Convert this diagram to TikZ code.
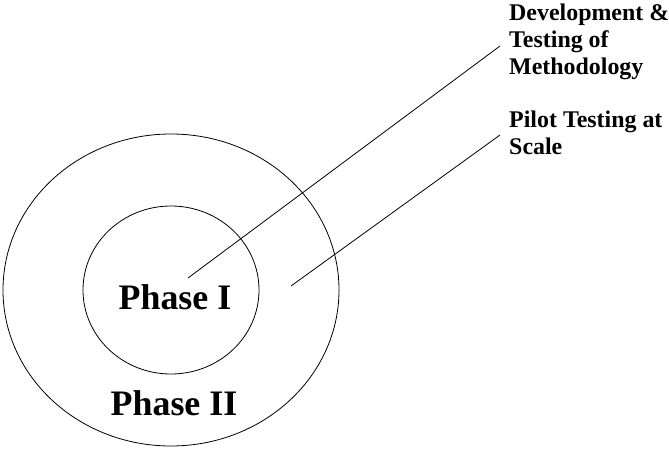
\documentclass[tikz,border=0pt]{standalone}
\usepackage{fontspec}
\setmainfont{Liberation Serif}
\begin{document}
\begin{tikzpicture}[x=1bp,y=-1bp,
  ring/.style={draw=black, line width=0.8bp},
  lead/.style={draw=black, line width=0.8bp},
  phase/.style={font=\bfseries\fontsize{36}{40}\selectfont, inner sep=0pt, anchor=base},
  label/.style={font=\bfseries\fontsize{24}{27.5}\selectfont, inner sep=0pt, anchor=base west, align=left}]
\useasboundingbox (0,0) rectangle (669,449);
\draw[ring] (171,290) ellipse [x radius=168, y radius=156];
\draw[ring] (171,290) ellipse [x radius=88, y radius=84];
\node[phase] (p1) at (175,310) {Phase I};
\node[phase] (p2) at (174,415) {Phase II};
\node[label] (l1) at (509,75) {Development \&\\Testing of\\Methodology};
\node[label] (l2) at (509,155) {Pilot Testing at\\Scale};
\coordinate (a1) at (188,278);
\coordinate (b1) at (500,46);
\coordinate (a2) at (291,286);
\coordinate (b2) at (500,135);
\draw[lead] (a1) -- (b1);
\draw[lead] (a2) -- (b2);
\end{tikzpicture}
\end{document}
